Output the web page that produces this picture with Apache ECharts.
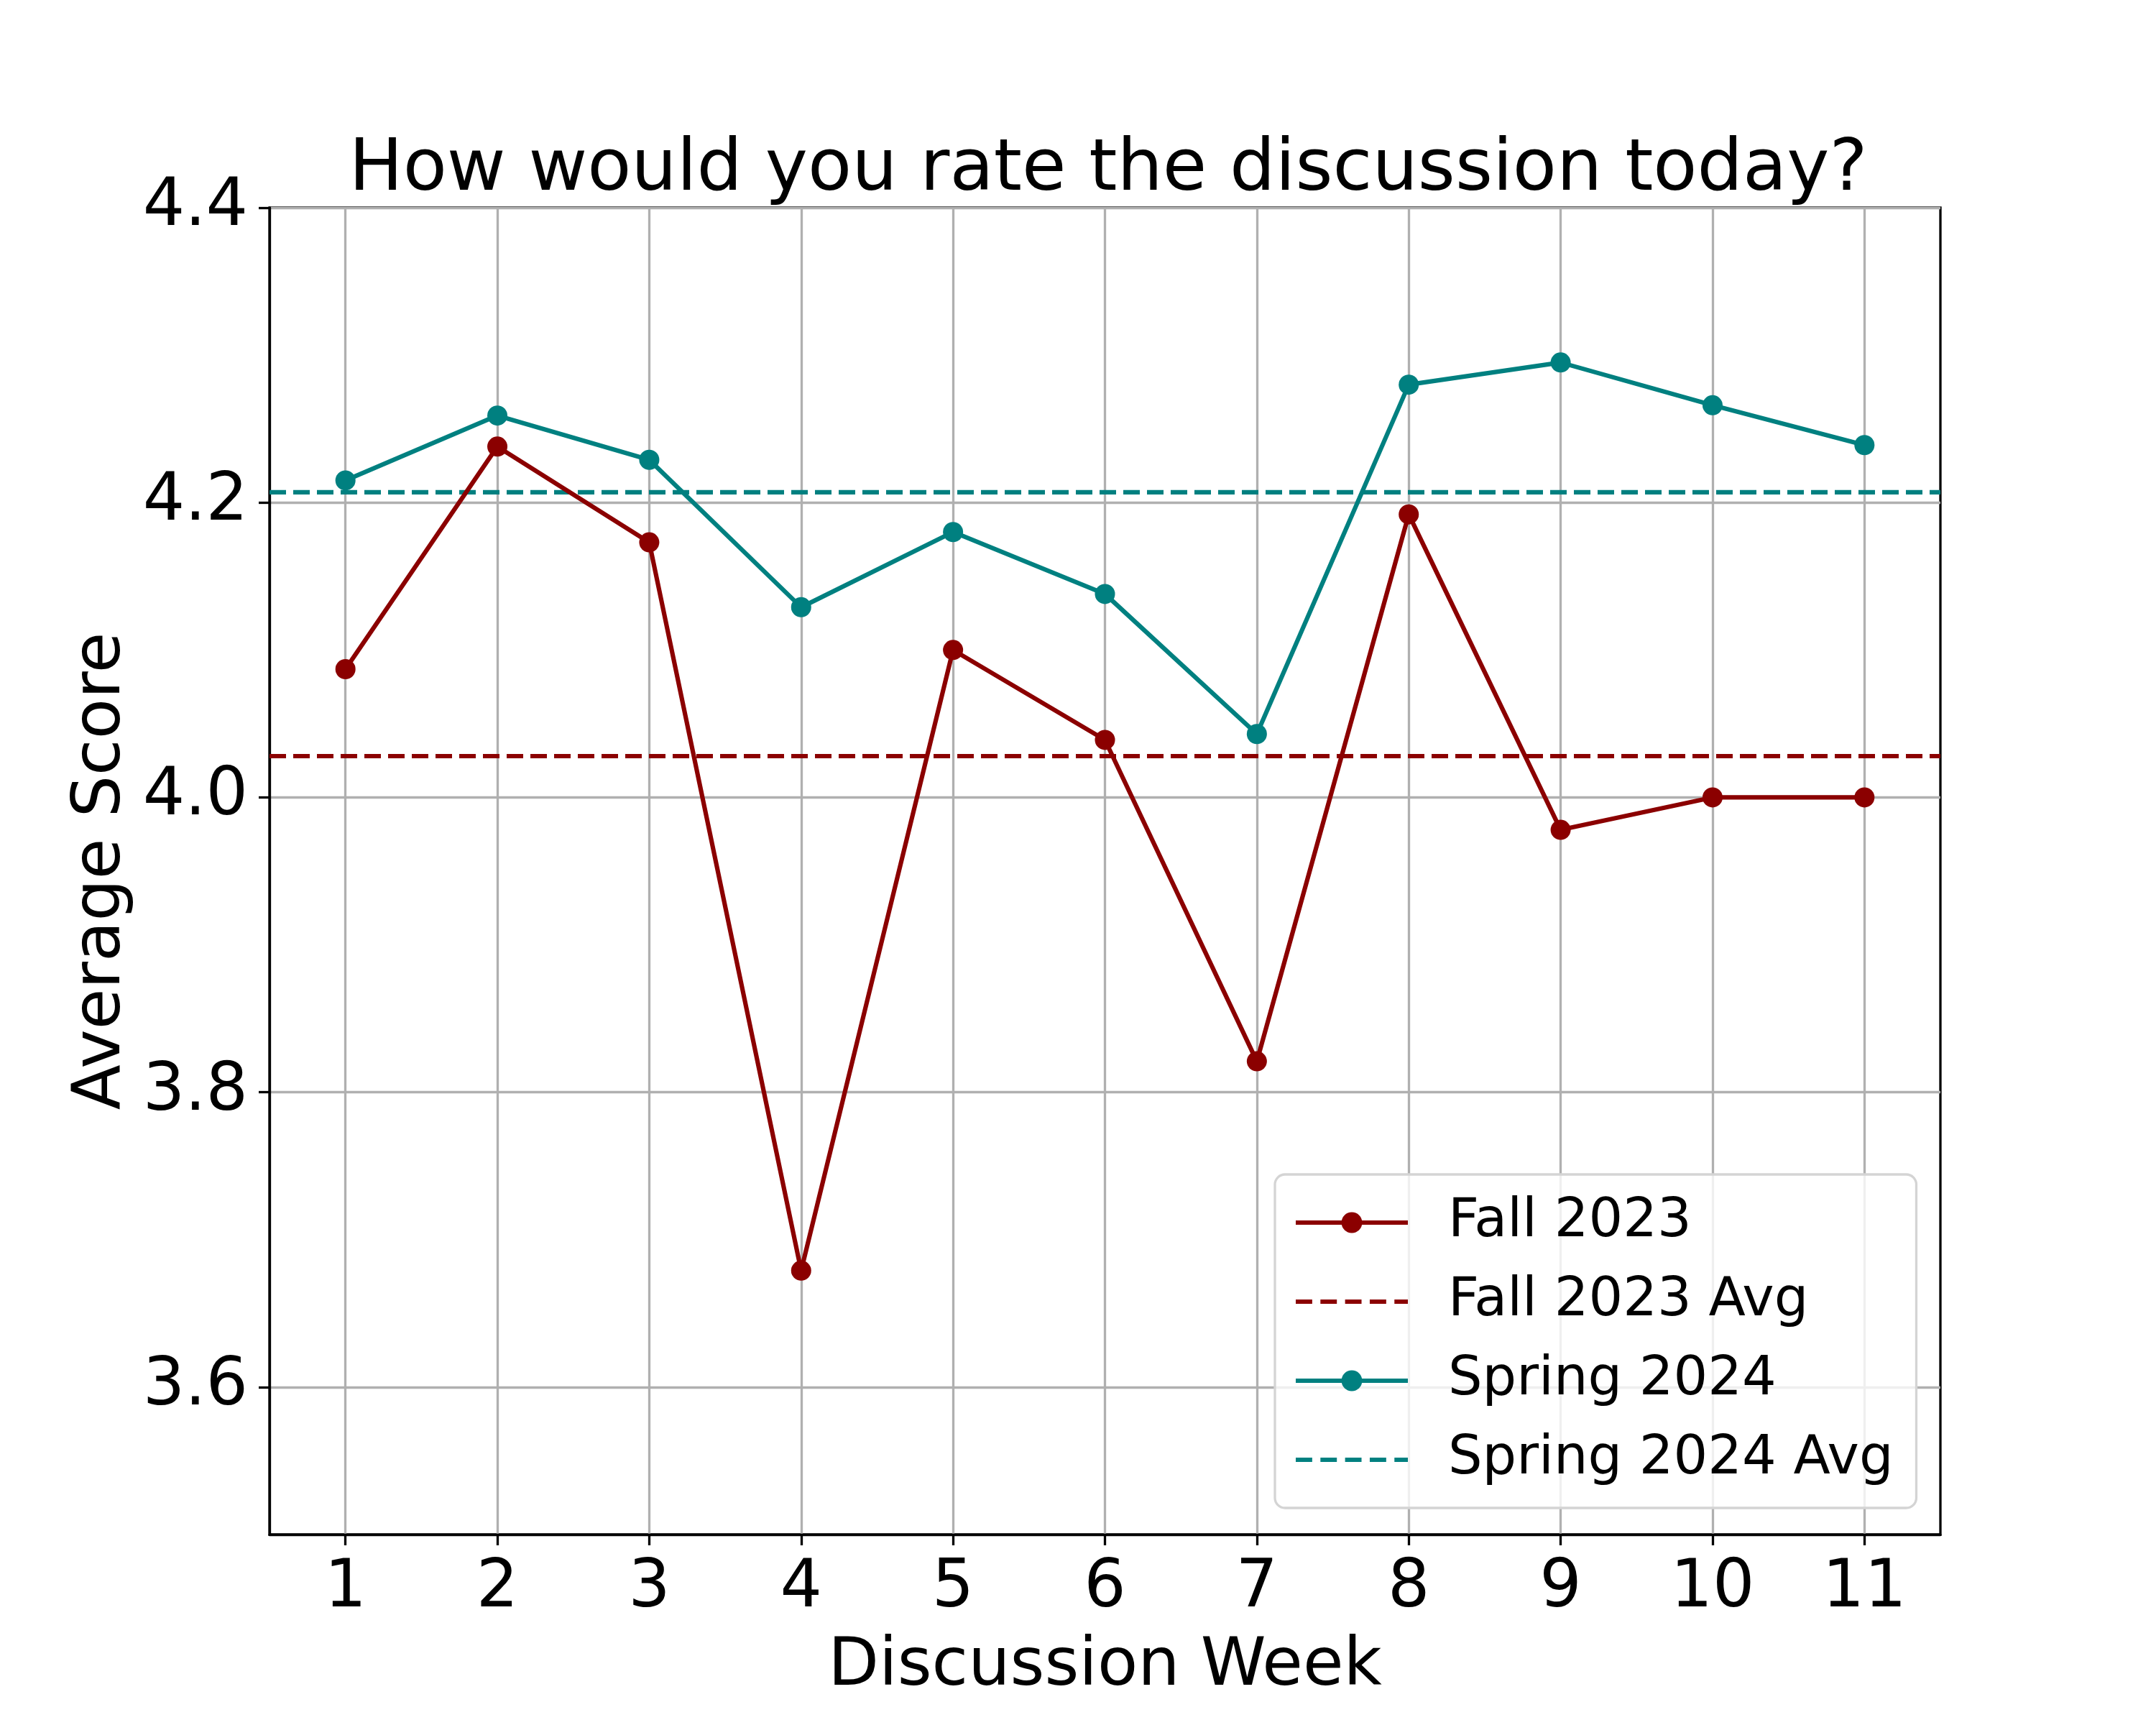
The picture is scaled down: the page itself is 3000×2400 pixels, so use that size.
<!DOCTYPE html>
<html>
<head>
<meta charset="utf-8">
<script src="https://cdn.jsdelivr.net/npm/echarts@6/dist/echarts.min.js"></script>
<style>
html,body{margin:0;padding:0;background:#fff;}
#chart{width:3000px;height:2400px;}
</style>
</head>
<body>
<div id="chart"></div>
<script>
var weeks = [1, 2, 3, 4, 5, 6, 7, 8, 9, 10, 11];
var fall2023 = [4.087, 4.238, 4.173, 3.679, 4.100, 4.039, 3.821, 4.192, 3.978, 4.000, 4.000];
var spring2024 = [4.215, 4.259, 4.229, 4.129, 4.180, 4.138, 4.043, 4.280, 4.295, 4.266, 4.239];
var fallAvg = 4.028;
var springAvg = 4.207;
var yTicks = [3.6, 3.8, 4.0, 4.2, 4.4];
var xRange = [0.5, 11.5];
var yRange = [3.5, 4.4];

var RED = '#8B0000';
var TEAL = '#008080';
var FONT = 'DejaVu Sans';
var DASH_ICON = 'path://M0,0h22v6h-22z M33,0h22v6h-22z M66,0h22v6h-22z M99,0h22v6h-22z M132,0h18v6h-18z';

function pairs(xs, ys) { return xs.map(function (x, i) { return [x, ys[i]]; }); }

var chart = echarts.init(document.getElementById('chart'), null, {renderer: 'canvas'});
chart.setOption({
  animation: false,
  backgroundColor: '#ffffff',
  title: {
    text: 'How would you rate the discussion today?',
    left: 1537, top: 183, textAlign: 'center',
    textStyle: {fontFamily: FONT, fontSize: 100, fontWeight: 'normal', color: '#000'}
  },
  grid: {
    left: 375, top: 289, width: 2325, height: 1846,
    show: true, borderColor: '#000', borderWidth: 3.3, backgroundColor: 'transparent'
  },
  legend: {
    orient: 'vertical',
    left: 1774, top: 1634,
    padding: [22, 32, 22, 26],
    itemWidth: 156, itemHeight: 36, itemGap: 20, itemTextGap: 10,
    symbolKeepAspect: true,
    backgroundColor: 'rgba(255,255,255,0.8)',
    borderColor: '#d4d4d4', borderWidth: 3.3, borderRadius: 14,
    lineStyle: {width: 6},
    textStyle: {fontFamily: FONT, fontSize: 75, color: '#000', lineHeight: 90, padding: [0, 0, 0, 51]},
    data: [
      {name: 'Fall 2023'},
      {name: 'Fall 2023 Avg', icon: DASH_ICON},
      {name: 'Spring 2024'},
      {name: 'Spring 2024 Avg', icon: DASH_ICON}
    ]
  },
  xAxis: {
    type: 'value', min: xRange[0], max: xRange[1],
    name: 'Discussion Week', nameLocation: 'middle', nameGap: 139,
    nameTextStyle: {fontFamily: FONT, fontSize: 92, color: '#000'},
    axisLine: {show: true, onZero: false, lineStyle: {color: '#000', width: 3.3}},
    axisTick: {show: true, inside: false, length: 15, lineStyle: {color: '#000', width: 3.3}, customValues: weeks},
    axisLabel: {fontFamily: FONT, fontSize: 92, color: '#000', margin: 30, customValues: weeks},
    splitLine: {show: true, lineStyle: {color: '#b0b0b0', width: 3.3}}
  },
  yAxis: {
    type: 'value', min: yRange[0], max: yRange[1],
    name: 'Average Score', nameLocation: 'middle', nameGap: 183,
    nameTextStyle: {fontFamily: FONT, fontSize: 92, color: '#000'},
    axisLine: {show: true, onZero: false, lineStyle: {color: '#000', width: 3.3}},
    axisTick: {show: true, inside: false, length: 15, lineStyle: {color: '#000', width: 3.3}, customValues: yTicks},
    axisLabel: {fontFamily: FONT, fontSize: 92, color: '#000', margin: 30, customValues: yTicks,
      formatter: function (v) { return v.toFixed(1); }},
    splitLine: {show: true, lineStyle: {color: '#b0b0b0', width: 3.3}}
  },
  series: [
    {
      name: 'Fall 2023', type: 'line', data: pairs(weeks, fall2023),
      symbol: 'circle', symbolSize: 28, showAllSymbol: true,
      lineStyle: {color: RED, width: 6.2}, itemStyle: {color: RED}, z: 3
    },
    {
      name: 'Fall 2023 Avg', type: 'line', data: [[xRange[0], fallAvg], [xRange[1], fallAvg]],
      symbol: 'none', lineStyle: {color: RED, width: 6.2, type: [23, 10]}, itemStyle: {color: RED}, z: 2
    },
    {
      name: 'Spring 2024', type: 'line', data: pairs(weeks, spring2024),
      symbol: 'circle', symbolSize: 28, showAllSymbol: true,
      lineStyle: {color: TEAL, width: 6.2}, itemStyle: {color: TEAL}, z: 3
    },
    {
      name: 'Spring 2024 Avg', type: 'line', data: [[xRange[0], springAvg], [xRange[1], springAvg]],
      symbol: 'none', lineStyle: {color: TEAL, width: 6.2, type: [23, 10]}, itemStyle: {color: TEAL}, z: 2
    }
  ]
});
</script>
</body>
</html>
